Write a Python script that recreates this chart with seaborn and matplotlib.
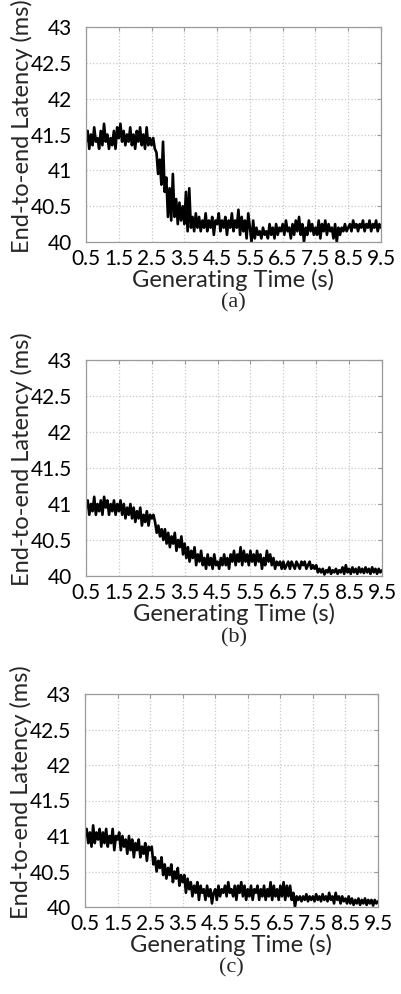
import numpy as np
import pandas as pd
import matplotlib
matplotlib.use("Agg")
import matplotlib.pyplot as plt
import seaborn as sns

# --- Data (0.05 s sampling) ---
time_s = np.linspace(0.5, 9.5, 181)

latency_a = [
    41.40, 41.55, 41.30, 41.50, 41.35, 41.60, 41.40, 41.45, 41.30, 41.55, 41.35, 41.65, 41.40, 41.50, 41.30, 41.45, 41.35, 41.55, 41.30, 41.60,
    41.45, 41.65, 41.40, 41.55, 41.35, 41.50, 41.40, 41.60, 41.35, 41.50, 41.30, 41.55, 41.40, 41.60, 41.35, 41.50, 41.30, 41.60, 41.35, 41.45,
    41.35, 41.45, 41.30, 41.25, 40.95, 41.15, 40.80, 41.40, 40.70, 40.90, 40.35, 40.75, 40.30, 40.95, 40.35, 40.60, 40.25, 40.55, 40.30, 40.50,
    40.25, 40.70, 40.15, 40.75, 40.20, 40.35, 40.15, 40.40, 40.20, 40.35, 40.15, 40.30, 40.20, 40.40, 40.15, 40.30, 40.20, 40.35, 40.10, 40.30,
    40.25, 40.40, 40.15, 40.30, 40.20, 40.35, 40.10, 40.30, 40.20, 40.40, 40.15, 40.30, 40.20, 40.45, 40.10, 40.35, 40.15, 40.30, 40.05, 40.40,
    40.20, 40.00, 40.30, 40.05, 40.20, 40.10, 40.15, 40.05, 40.20, 40.10, 40.15, 40.05, 40.25, 40.10, 40.20, 40.05, 40.25, 40.10, 40.20, 40.15,
    40.25, 40.10, 40.30, 40.15, 40.20, 40.05, 40.25, 40.10, 40.30, 40.15, 40.35, 40.10, 40.25, 40.00, 40.20, 40.10, 40.30, 40.15, 40.25, 40.10,
    40.20, 40.10, 40.30, 40.05, 40.25, 40.15, 40.30, 40.10, 40.25, 40.15, 40.20, 40.05, 40.25, 40.00, 40.20, 40.10, 40.20, 40.15, 40.25, 40.15,
    40.20, 40.25, 40.15, 40.30, 40.20, 40.25, 40.15, 40.25, 40.20, 40.30, 40.15, 40.25, 40.20, 40.30, 40.15, 40.25, 40.20, 40.30, 40.15, 40.25, 40.20,
]

latency_b = [
    40.95, 41.05, 40.85, 41.00, 40.90, 41.10, 40.85, 41.00, 40.90, 41.05, 40.85, 41.10, 40.95, 41.05, 40.85, 41.00, 40.90, 41.05, 40.85, 41.00,
    40.90, 41.05, 40.85, 41.00, 40.80, 40.95, 40.85, 41.00, 40.80, 40.95, 40.75, 40.90, 40.80, 40.95, 40.70, 40.85, 40.75, 40.90, 40.70, 40.85,
    40.80, 40.85, 40.75, 40.60, 40.70, 40.55, 40.65, 40.50, 40.65, 40.45, 40.60, 40.40, 40.55, 40.45, 40.60, 40.35, 40.50, 40.40, 40.55, 40.30,
    40.45, 40.25, 40.40, 40.20, 40.35, 40.25, 40.40, 40.15, 40.30, 40.20, 40.35, 40.15, 40.25, 40.10, 40.30, 40.15, 40.25, 40.10, 40.30, 40.15,
    40.20, 40.10, 40.25, 40.15, 40.30, 40.15, 40.25, 40.10, 40.30, 40.20, 40.35, 40.15, 40.30, 40.20, 40.40, 40.15, 40.35, 40.20, 40.30, 40.15,
    40.35, 40.20, 40.30, 40.15, 40.35, 40.20, 40.30, 40.10, 40.25, 40.15, 40.35, 40.20, 40.30, 40.15, 40.25, 40.10, 40.20, 40.15, 40.20, 40.10,
    40.20, 40.10, 40.15, 40.20, 40.10, 40.20, 40.15, 40.10, 40.20, 40.15, 40.10, 40.20, 40.15, 40.20, 40.10, 40.15, 40.20, 40.10, 40.15, 40.10,
    40.15, 40.05, 40.10, 40.05, 40.10, 40.02, 40.08, 40.05, 40.12, 40.03, 40.08, 40.05, 40.10, 40.03, 40.08, 40.05, 40.12, 40.03, 40.15, 40.05,
    40.10, 40.03, 40.12, 40.05, 40.10, 40.03, 40.12, 40.05, 40.10, 40.04, 40.12, 40.05, 40.10, 40.03, 40.12, 40.05, 40.10, 40.03, 40.10, 40.05, 40.08,
]

latency_c = [
    41.00, 41.10, 40.90, 41.05, 40.85, 41.15, 40.90, 41.05, 40.95, 41.10, 40.85, 41.05, 40.90, 41.10, 40.85, 41.00, 40.90, 41.10, 40.80, 41.00,
    40.95, 41.05, 40.80, 41.00, 40.85, 40.95, 40.75, 41.00, 40.80, 40.95, 40.70, 40.90, 40.80, 40.95, 40.70, 40.85, 40.75, 40.90, 40.65, 40.85,
    40.80, 40.85, 40.60, 40.70, 40.50, 40.65, 40.55, 40.70, 40.45, 40.60, 40.40, 40.55, 40.45, 40.60, 40.35, 40.50, 40.40, 40.55, 40.30, 40.45,
    40.35, 40.45, 40.20, 40.40, 40.25, 40.35, 40.15, 40.30, 40.20, 40.35, 40.10, 40.30, 40.20, 40.25, 40.10, 40.30, 40.15, 40.25, 40.05, 40.20,
    40.25, 40.10, 40.30, 40.15, 40.25, 40.20, 40.30, 40.15, 40.35, 40.20, 40.25, 40.15, 40.30, 40.10, 40.30, 40.20, 40.35, 40.15, 40.30, 40.10,
    40.25, 40.15, 40.30, 40.10, 40.25, 40.20, 40.30, 40.10, 40.25, 40.15, 40.30, 40.10, 40.25, 40.15, 40.35, 40.10, 40.30, 40.15, 40.25, 40.10,
    40.30, 40.15, 40.35, 40.10, 40.30, 40.15, 40.30, 40.10, 40.20, 40.00, 40.15, 40.10, 40.15, 40.08, 40.15, 40.10, 40.18, 40.08, 40.15, 40.10,
    40.15, 40.08, 40.18, 40.10, 40.15, 40.08, 40.18, 40.10, 40.15, 40.08, 40.20, 40.10, 40.15, 40.05, 40.20, 40.10, 40.15, 40.05, 40.15, 40.08,
    40.12, 40.05, 40.15, 40.05, 40.12, 40.03, 40.10, 40.05, 40.12, 40.03, 40.10, 40.05, 40.12, 40.03, 40.10, 40.05, 40.10, 40.02, 40.10, 40.05, 40.08,
]

panel_labels = ["(a)", "(b)", "(c)"]
x_ticks = [0.5, 1.5, 2.5, 3.5, 4.5, 5.5, 6.5, 7.5, 8.5, 9.5]
y_ticks = [40, 40.5, 41, 41.5, 42, 42.5, 43]

# --- Style ---
sns.set_style("whitegrid")
plt.rcParams["font.family"] = ["Lato", "DejaVu Sans"]

fig = plt.figure(figsize=(4.01, 9.94), dpi=100)
W, H = 401, 994
# axes boxes in pixels: left, top, right, bottom
boxes = [(86, 27, 381, 242), (86, 360, 382, 576), (85, 694, 378, 907)]

for box, series, label in zip(boxes, [latency_a, latency_b, latency_c], panel_labels):
    l, t, r, b = box
    ax = fig.add_axes([l / W, 1 - b / H, (r - l) / W, (b - t) / H])
    df = pd.DataFrame({"time": time_s, "latency": series})
    sns.lineplot(data=df, x="time", y="latency", ax=ax, color="black", linewidth=1.9)
    ax.set_xlim(0.5, 9.5)
    ax.set_ylim(40, 43)
    ax.set_xticks(x_ticks)
    ax.set_xticklabels([f"{v:g}" for v in x_ticks])
    ax.set_yticks(y_ticks)
    ax.set_yticklabels([f"{v:g}" for v in y_ticks])
    ax.grid(True, color="#c8c8c8", linestyle=":", linewidth=0.9)
    for sp in ax.spines.values():
        sp.set_color("#9a9a9a")
        sp.set_linewidth(0.9)
    ax.tick_params(axis="both", direction="in", length=3, width=0.8, color="#9a9a9a",
                   labelsize=15, labelcolor="black", top=True, right=True)
    ax.tick_params(axis="x", pad=5)
    ax.tick_params(axis="y", pad=10)
    ax.set_xlabel("Generating Time (s)", fontsize=17, labelpad=0)
    ax.set_ylabel("End-to-end Latency (ms)", fontsize=17)
    ax.yaxis.set_label_coords(-0.18, 0.54)
    ax.text(0.5, -0.285, label, transform=ax.transAxes, ha="center", va="center",
            fontsize=16, family="Liberation Serif")

plt.savefig("out.png", dpi=100)
